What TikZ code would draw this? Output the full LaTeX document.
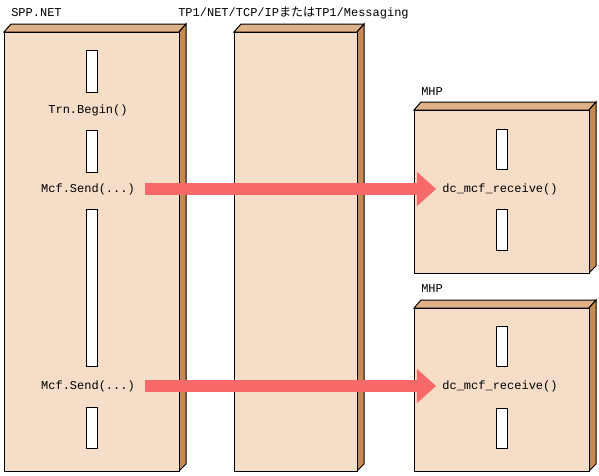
\documentclass[tikz,border=0pt]{standalone}
\usepackage{fontspec}
\setmainfont{Liberation Mono}
\newfontfamily\cjk{Noto Sans CJK JP}
\usetikzlibrary{arrows.meta}
\definecolor{slabfront}{RGB}{245,221,199}
\definecolor{slabtop}{RGB}{222,177,137}
\definecolor{slabside}{RGB}{198,137,82}
\definecolor{msgred}{RGB}{248,106,106}
\begin{document}
\begin{tikzpicture}[
  x=0.75pt, y=-0.75pt,
  every node/.style={font=\fontsize{9pt}{10pt}\selectfont, inner sep=0pt},
  frontface/.style={fill=slabfront, draw=black, line width=0.75pt},
  topface/.style={fill=slabtop, draw=black, line width=0.75pt},
  sideface/.style={fill=slabside, draw=black, line width=0.75pt},
  actbar/.style={fill=white, draw=black, line width=0.75pt},
  title/.style={anchor=west},
  msg/.style={draw=msgred, line width=9.5pt,
    -{Triangle[length=14.5pt, width=25pt]},
    shorten <=7.5pt, shorten >=4.5pt}
]
  \useasboundingbox (0,0) rectangle (599,475);
  % slabs: left/top/right/bottom
  \foreach \l/\t/\r/\b in {4/32/179/471, 234/32/357/471,
                           414/110/589/273, 414/308/589/471} {
    \filldraw[topface] (\l,\t) -- (\l+7,\t-8) -- (\r+7,\t-8) -- (\r,\t) -- cycle;
    \filldraw[sideface] (\r,\t) -- (\r+7,\t-8) -- (\r+7,\b-7) -- (\r,\b) -- cycle;
    \filldraw[frontface] (\l,\t) rectangle (\r,\b);
  }
  % activation bars
  \foreach \x/\t/\b in {86/50/92, 86/130/172, 86/209/366, 86/407/448,
                        496/129/169, 496/209/250, 496/326/366, 496/408/448}
    \filldraw[actbar] (\x,\t) rectangle (\x+11,\b);

  \node[title] (spp) at (11,13) {SPP.NET};
  \node[title] (tp1) at (178,13) {TP1/NET/TCP/IP{\cjk または}TP1/Messaging};
  \node[title] (mhpa) at (421,92) {MHP};
  \node[title] (mhpb) at (421,289) {MHP};

  \node (trn) at (88,110) {Trn.Begin()};
  \node (senda) at (88,189) {Mcf.Send(...)};
  \node (sendb) at (88,386) {Mcf.Send(...)};
  \node (recva) at (500,189) {dc\_mcf\_receive()};
  \node (recvb) at (500,386) {dc\_mcf\_receive()};

  \draw[msg] (senda.east) -- (recva.west);
  \draw[msg] (sendb.east) -- (recvb.west);
\end{tikzpicture}
\end{document}
